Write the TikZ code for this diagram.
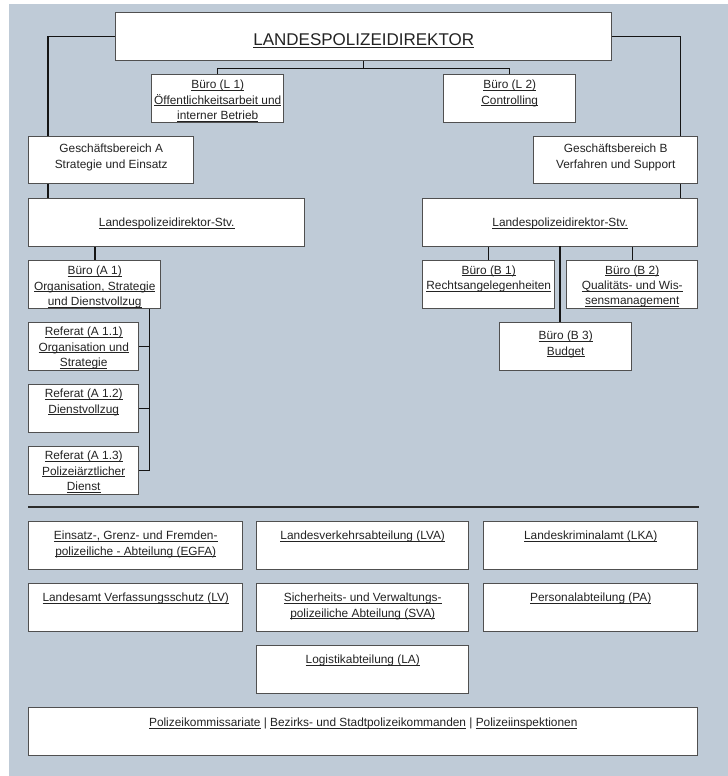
\documentclass[tikz,border=0pt]{standalone}
\usepackage{fontspec}
\setmainfont{Liberation Sans}
\usetikzlibrary{calc}
\definecolor{bg}{RGB}{191,203,215}
\definecolor{bord}{RGB}{80,80,80}
\definecolor{txt}{RGB}{35,35,35}
\definecolor{conn}{RGB}{20,20,20}
\newdimen\pxu \pxu=0.75pt
\newsavebox\ulbox
\newcommand\uln[1]{\leavevmode\sbox\ulbox{#1}\rlap{\rule[-1.5pt]{\wd\ulbox}{0.55pt}}\usebox\ulbox}
\newcommand\ulnT[1]{\leavevmode\sbox\ulbox{#1}\rlap{\rule[-1.8pt]{\wd\ulbox}{0.7pt}}\usebox\ulbox}
\newcommand\bt[4]{\parbox[t][#2\pxu][t]{#1\pxu}{\centering\vspace*{#3\pxu}\strut #4\par}}
\tikzset{
  box/.style={draw=bord, line width=1.1pt, fill=white, inner sep=0pt, anchor=north west,
    text=txt, font=\fontsize{8.9}{11.6}\selectfont},
  conn/.style={draw=conn, line width=0.9pt},
}
\begin{document}
\begin{tikzpicture}[x=0.75pt,y=-0.75pt]
\useasboundingbox (0,0) rectangle (728,776);
\fill[bg] (9,4) rectangle (728,776);

\node[box] (main) at (115,12) {\bt{496}{48}{19}{\fontsize{12.75}{15}\selectfont\strut\ulnT{LANDESPOLIZEIDIREKTOR}}};
\node[box] (l1) at (151,74) {\bt{132}{48}{3}{\uln{Büro (L 1)}\\\uln{Öffentlichkeitsarbeit und}\\\uln{interner Betrieb}}};
\node[box] (l2) at (443,74) {\bt{132}{48}{3}{\uln{Büro (L 2)}\\\uln{Controlling}}};
\node[box] (gba) at (28,136) {\bt{165}{47}{5}{Geschäftsbereich A\\Strategie und Einsatz}};
\node[box] (gbb) at (533,136) {\bt{164}{47}{5}{Geschäftsbereich B\\Verfahren und Support}};
\node[box] (stva) at (28,198) {\bt{276}{48}{17}{\uln{Landespolizeidirektor-Stv.}}};
\node[box] (stvb) at (422,198) {\bt{275}{48}{17}{\uln{Landespolizeidirektor-Stv.}}};
\node[box] (a1) at (28,260) {\bt{132}{48}{3}{\uln{Büro (A 1)}\\\uln{Organisation, Strategie}\\\uln{und Dienstvollzug}}};
\node[box] (r1) at (28,322) {\bt{110}{48}{2}{\uln{Referat (A 1.1)}\\\uln{Organisation und}\\\uln{Strategie}}};
\node[box] (r2) at (28,384) {\bt{110}{48}{2}{\uln{Referat (A 1.2)}\\\uln{Dienstvollzug}}};
\node[box] (r3) at (28,446) {\bt{110}{48}{2}{\uln{Referat (A 1.3)}\\\uln{Polizeiärztlicher}\\\uln{Dienst}}};
\node[box] (b1) at (422,260) {\bt{132}{48}{2.5}{\uln{Büro (B 1)}\\\uln{Rechtsangelegenheiten}}};
\node[box] (b2) at (566,260) {\bt{131}{48}{2.5}{\uln{Büro (B 2)}\\\uln{Qualitäts- und Wis-}\\\uln{sensmanagement}}};
\node[box] (b3) at (499,322) {\bt{132}{48}{6}{\uln{Büro (B 3)}\\\uln{Budget}}};

\node[box] (egfa) at (28,521) {\bt{214}{48}{7}{\uln{Einsatz-, Grenz- und Fremden-}\\\uln{polizeiliche - Abteilung (EGFA)}}};
\node[box] (lva) at (256,521) {\bt{212}{48}{7}{\uln{Landesverkehrsabteilung (LVA)}}};
\node[box] (lka) at (483,521) {\bt{214}{48}{7}{\uln{Landeskriminalamt (LKA)}}};
\node[box] (lv) at (28,583) {\bt{214}{48}{7}{\uln{Landesamt Verfassungsschutz (LV)}}};
\node[box] (sva) at (256,583) {\bt{212}{48}{7}{\uln{Sicherheits- und Verwaltungs-}\\\uln{polizeiliche Abteilung (SVA)}}};
\node[box] (pa) at (483,583) {\bt{214}{48}{7}{\uln{Personalabteilung (PA)}}};
\node[box] (la) at (256,645) {\bt{212}{48}{7}{\uln{Logistikabteilung (LA)}}};
\node[box] (pol) at (28,707) {\bt{669}{48}{8}{\uln{Polizeikommissariate} | \uln{Bezirks- und Stadtpolizeikommanden} | \uln{Polizeiinspektionen}}};

\draw[conn] (main.west) -| ($(gba.north west)+(20,0)$);
\draw[conn] ($(gba.south west)+(20,0)$) -- ($(stva.north west)+(20,0)$);
\draw[conn] (main.east) -| ($(gbb.north east)+(-18,0)$);
\draw[conn] ($(gbb.south east)+(-18,0)$) -- ($(stvb.north east)+(-18,0)$);
\draw[conn] (main.south) -- ++(0,7) -| (l1.north);
\draw[conn] (main.south) -- ++(0,7) -| (l2.north);
\draw[conn] ($(stva.south west)+(67,0)$) -- ($(a1.north west)+(67,0)$);
\draw[conn] ($(a1.south east)+(-12,0)$) |- (r3.east);
\draw[conn] (r1.east) -- ++(10,0);
\draw[conn] (r2.east) -- ++(10,0);
\draw[conn] (b1.north) -- (b1.north |- stvb.south);
\draw[conn] (b2.north) -- (b2.north |- stvb.south);
\draw[conn] ($(b3.north west)+(61,0)$) -- ++(0,-76);

\draw[draw=conn!90!white, line width=1pt] (28,507) -- (699,507);
\end{tikzpicture}
\end{document}
